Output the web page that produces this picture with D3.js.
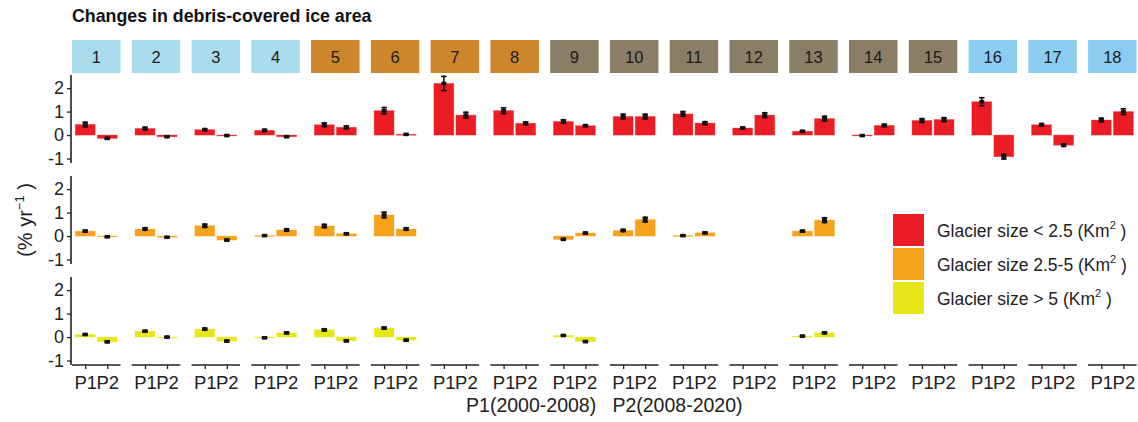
<!DOCTYPE html>
<html>
<head>
<meta charset="utf-8">
<script src="https://cdn.jsdelivr.net/npm/d3@7"></script>
<style>
  body { margin: 0; background: #fff; }
  svg text { font-family: "Liberation Sans", Arial, sans-serif; }
</style>
</head>
<body>
<div id="chart"></div>
<script>
// Regiões (facetas) e cores das tiras
const regions = d3.range(1, 19).map(String);
const stripColors = ['#a8dcec', '#a8dcec', '#a8dcec', '#a8dcec',
  '#cd862c', '#cd862c', '#cd862c', '#cd862c',
  '#8b7e66', '#8b7e66', '#8b7e66', '#8b7e66', '#8b7e66', '#8b7e66', '#8b7e66',
  '#8bcdf0', '#8bcdf0', '#8bcdf0'];
const periods = ['P1', 'P2'];
const sizeClasses = ['Glacier size < 2.5 (Km', 'Glacier size 2.5-5 (Km', 'Glacier size > 5 (Km'];
const sizeColors = ['#ec1c24', '#f7a21b', '#e6e619'];
const yTicks = [-1, 0, 1, 2];

// Valores (% / ano) por região: [P1, P2]; null = sem dado
const small = [[0.45, -0.14], [0.28, -0.07], [0.23, -0.02], [0.2, -0.07], [0.44, 0.33], [1.04, 0.03],
  [2.2, 0.85], [1.04, 0.5], [0.58, 0.4], [0.79, 0.79], [0.9, 0.51], [0.3, 0.85],
  [0.16, 0.7], [-0.02, 0.41], [0.62, 0.66], [1.42, -0.92], [0.44, -0.43], [0.64, 1.0]];
const smallErr = [[0.1, 0.03], [0.05, 0.02], [0.04, 0.01], [0.04, 0.02], [0.08, 0.06], [0.13, 0.01],
  [0.3, 0.12], [0.12, 0.06], [0.07, 0.04], [0.1, 0.1], [0.1, 0.06], [0.03, 0.1],
  [0.03, 0.1], [0.01, 0.05], [0.08, 0.08], [0.17, 0.1], [0.05, 0.05], [0.08, 0.12]];
const medium = [[0.21, -0.03], [0.3, -0.05], [0.44, -0.17], [0.02, 0.26], [0.43, 0.1], [0.9, 0.3],
  null, null, [-0.14, 0.13], [0.24, 0.7], [0.02, 0.14], null,
  [0.21, 0.68], null, null, null, null, null];
const mediumErr = [[0.04, 0.02], [0.05, 0.02], [0.07, 0.03], [0.02, 0.05], [0.07, 0.03], [0.12, 0.05],
  null, null, [0.03, 0.03], [0.04, 0.1], [0.02, 0.03], null,
  [0.03, 0.1], null, null, null, null, null];
const large = [[0.11, -0.2], [0.25, 0.0], [0.34, -0.17], [-0.03, 0.18], [0.31, -0.16], [0.38, -0.13],
  null, null, [0.07, -0.19], null, null, null,
  [0.04, 0.18], null, null, null, null, null];
const largeErr = [[0.03, 0.03], [0.03, 0.02], [0.04, 0.03], [0.02, 0.03], [0.04, 0.03], [0.04, 0.03],
  null, null, [0.02, 0.03], null, null, null,
  [0.02, 0.03], null, null, null, null, null];

const rows = [[small, smallErr], [medium, mediumErr], [large, largeErr]];

const width = 1138, height = 422;
const svg = d3.select('#chart').append('svg')
  .attr('width', width)
  .attr('height', height);

// Título
svg.append('text')
  .attr('x', 72).attr('y', 22)
  .attr('font-size', 17.8).attr('font-weight', 'bold')
  .attr('fill', '#111')
  .text('Changes in debris-covered ice area');

// Grade de facetas
const panelW = 48.5, pitch = 59.77, left = 72;
const rowTops = [75, 176, 277], panelH = 88;
const stripTop = 40, stripH = 33;
const axisColor = '#222';

const xPanel = d3.scalePoint().domain(regions).range([left, left + pitch * 17]);
// Escala discreta dentro de cada painel (expansão de 0.6 unidades como ggplot)
const xIn = d3.scaleLinear().domain([0.4, 2.6]).range([0, panelW]);
const barW = xIn(1.45) - xIn(0.55);

// Tiras das regiões
regions.forEach((r, i) => {
  const g = svg.append('g').attr('transform', `translate(${xPanel(r)},${stripTop})`);
  g.append('rect').attr('width', panelW).attr('height', stripH).attr('fill', stripColors[i]);
  g.append('text')
    .attr('x', panelW / 2).attr('y', stripH / 2 + 6)
    .attr('text-anchor', 'middle').attr('font-size', 16.5).attr('fill', '#1a1a1a')
    .text(r);
});

rows.forEach(([vals, errs], ri) => {
  const top = rowTops[ri];
  const y = d3.scaleLinear().domain([-1.19, 2.56]).range([top + panelH, top]);

  // Eixo y só na primeira coluna
  const yAxis = svg.append('g')
    .attr('transform', `translate(${left - 1},0)`)
    .call(d3.axisLeft(y).tickValues(yTicks).tickSize(4).tickPadding(3).tickFormat(d3.format('d')));
  yAxis.select('.domain').attr('stroke', axisColor).attr('stroke-width', 1.6)
    .attr('d', `M0,${top}V${top + panelH}`);
  yAxis.selectAll('.tick line').attr('stroke', axisColor).attr('stroke-width', 1.3);
  yAxis.selectAll('.tick text').attr('font-size', 18).attr('fill', '#222')
    .text(d => d < 0 ? '-' + Math.abs(d) : d);

  regions.forEach((r, i) => {
    const v = vals[i];
    if (!v) return;
    const e = errs[i];
    const g = svg.append('g').attr('transform', `translate(${xPanel(r)},0)`);
    periods.forEach((p, k) => {
      const cx = xIn(k + 1);
      g.append('rect')
        .attr('x', cx - barW / 2)
        .attr('y', y(Math.max(0, v[k])))
        .attr('width', barW)
        .attr('height', Math.max(0.8, Math.abs(y(v[k]) - y(0))))
        .attr('fill', sizeColors[ri])
        .attr('stroke', sizeColors[ri]).attr('stroke-opacity', 0.45).attr('stroke-width', 0.8);
      // Barra de erro
      const y1 = y(v[k] + e[k]), y2 = y(v[k] - e[k]);
      g.append('line').attr('x1', cx).attr('x2', cx).attr('y1', y1 - 1).attr('y2', y2 + 1)
        .attr('stroke', '#111').attr('stroke-width', 1.6);
      [y1, y2].forEach(yy => g.append('line')
        .attr('x1', cx - 2.8).attr('x2', cx + 2.8).attr('y1', yy).attr('y2', yy)
        .attr('stroke', '#111').attr('stroke-width', 1.6));
      g.append('rect').attr('x', cx - 2.5).attr('y', y(v[k]) - 1.8)
        .attr('width', 5).attr('height', 3.6).attr('fill', '#111');
    });
  });
});

// Eixo x em cada painel da última linha
const bottom = rowTops[2] + panelH;
regions.forEach(r => {
  const g = svg.append('g').attr('transform', `translate(${xPanel(r)},${bottom})`);
  const xAxis = d3.axisBottom(d3.scalePoint().domain(periods).range([xIn(1), xIn(2)]))
    .tickSize(4).tickPadding(7);
  g.call(xAxis);
  g.select('.domain').attr('stroke', axisColor).attr('stroke-width', 1.6)
    .attr('d', `M0,0H${panelW}`);
  g.selectAll('.tick line').attr('stroke', axisColor).attr('stroke-width', 1.3);
  g.selectAll('.tick text').attr('font-size', 18.5).attr('fill', '#222');
});

// Título do eixo x
svg.append('text')
  .attr('x', (left + left + pitch * 17 + panelW) / 2).attr('y', 412)
  .attr('text-anchor', 'middle').attr('font-size', 19.5).attr('fill', '#222')
  .attr('xml:space', 'preserve').style('white-space', 'pre')
  .text('P1(2000-2008)   P2(2008-2020)');

// Título do eixo y
const yTitle = svg.append('text')
  .attr('transform', `translate(32,${(rowTops[0] + bottom) / 2}) rotate(-90)`)
  .attr('text-anchor', 'middle').attr('font-size', 20).attr('fill', '#222');
yTitle.append('tspan').text('(% yr');
yTitle.append('tspan').attr('font-size', 13).attr('dy', -8).text('−1');
yTitle.append('tspan').attr('dy', 8).text(' )');

// Legenda
const legend = svg.append('g').attr('transform', 'translate(893,214)');
sizeClasses.forEach((label, i) => {
  const g = legend.append('g').attr('transform', `translate(0,${i * 34})`);
  g.append('rect').attr('width', 31).attr('height', 32).attr('fill', sizeColors[i]);
  const t = g.append('text').attr('x', 44).attr('y', 22.5)
    .attr('font-size', 17.5).attr('fill', '#222');
  t.append('tspan').text(label);
  t.append('tspan').attr('font-size', 11).attr('dy', -8).text('2');
  t.append('tspan').attr('dy', 8).text(' )');
});
</script>
</body>
</html>
